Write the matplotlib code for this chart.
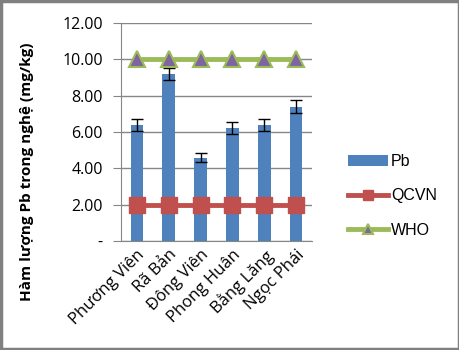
import matplotlib as mpl
mpl.use('agg')
import matplotlib.pyplot as plt
import numpy as np

sites = ['Phương Viên', 'Rã Bản', 'Đông Viên', 'Phong Huân', 'Bằng Lăng', 'Ngọc Phái']
pb = [6.4, 9.2, 4.6, 6.2, 6.4, 7.4]
pb_err = [0.32, 0.35, 0.25, 0.33, 0.32, 0.36]
qcvn = [2.0, 2.0, 2.0, 2.0, 2.0, 2.0]
who = [10.0, 10.0, 10.0, 10.0, 10.0, 10.0]
yticks = [0, 2, 4, 6, 8, 10, 12]
ytick_labels = ['-', '2.00', '4.00', '6.00', '8.00', '10.00', '12.00']

plt.rcParams['font.family'] = ['Open Sans', 'DejaVu Sans']

fig = plt.figure(figsize=(4.6, 3.5), dpi=100)
fig.patches.append(plt.Rectangle((0.003, 0.004), 0.994, 0.992, transform=fig.transFigure,
                                 fill=False, edgecolor='#808080', linewidth=2.5))
ax = fig.add_axes([0.263, 0.311, 0.415, 0.623])

x = np.arange(len(sites))
bars = ax.bar(x, pb, width=0.4, color='#4F81BD', zorder=2, label='Pb',
              yerr=pb_err, error_kw=dict(ecolor='black', elinewidth=1, capsize=4, capthick=1))
l1, = ax.plot(x, qcvn, color='#C0504D', linewidth=3.5, marker='s', markersize=11,
              markerfacecolor='#C0504D', markeredgecolor='#C0504D', zorder=3, label='QCVN')
l2, = ax.plot(x, who, color='#9BBB59', linewidth=3.5, marker='^', markersize=12,
              markerfacecolor='#8064A2', markeredgecolor='#9BBB59', markeredgewidth=1.5,
              zorder=3, label='WHO')

ax.set_xlim(-0.5, len(sites) - 0.5)
ax.set_ylim(0, 12)
ax.set_yticks(yticks)
ax.set_yticklabels(ytick_labels, fontsize=11.5)
ax.yaxis.grid(True, color='#868686', linewidth=1, zorder=0)
ax.set_axisbelow(True)
for s in ['top', 'right']:
    ax.spines[s].set_visible(False)
ax.spines['left'].set_color('#868686')
ax.spines['bottom'].set_color('#868686')
ax.tick_params(axis='y', length=6, color='#868686', pad=7)
ax.tick_params(axis='x', length=0, pad=4)
ax.set_xticks(x)
ax.set_xticklabels(sites, rotation=45, ha='right', rotation_mode='anchor', fontsize=12)

fig.text(27 / 460, 1 - 172 / 350, 'Hàm lượng Pb trong nghệ (mg/kg)', rotation=90,
         ha='center', va='center', fontsize=11, fontweight='bold')

leg = fig.legend(handles=[bars, l1, l2], loc='center left', bbox_to_anchor=(0.725, 0.44),
                 frameon=False, handlelength=2.5, labelspacing=1.2, handletextpad=0.2,
                 markerscale=0.6, prop={'family': 'Liberation Sans', 'size': 11.5})

fig.savefig('out.png', dpi=100)
